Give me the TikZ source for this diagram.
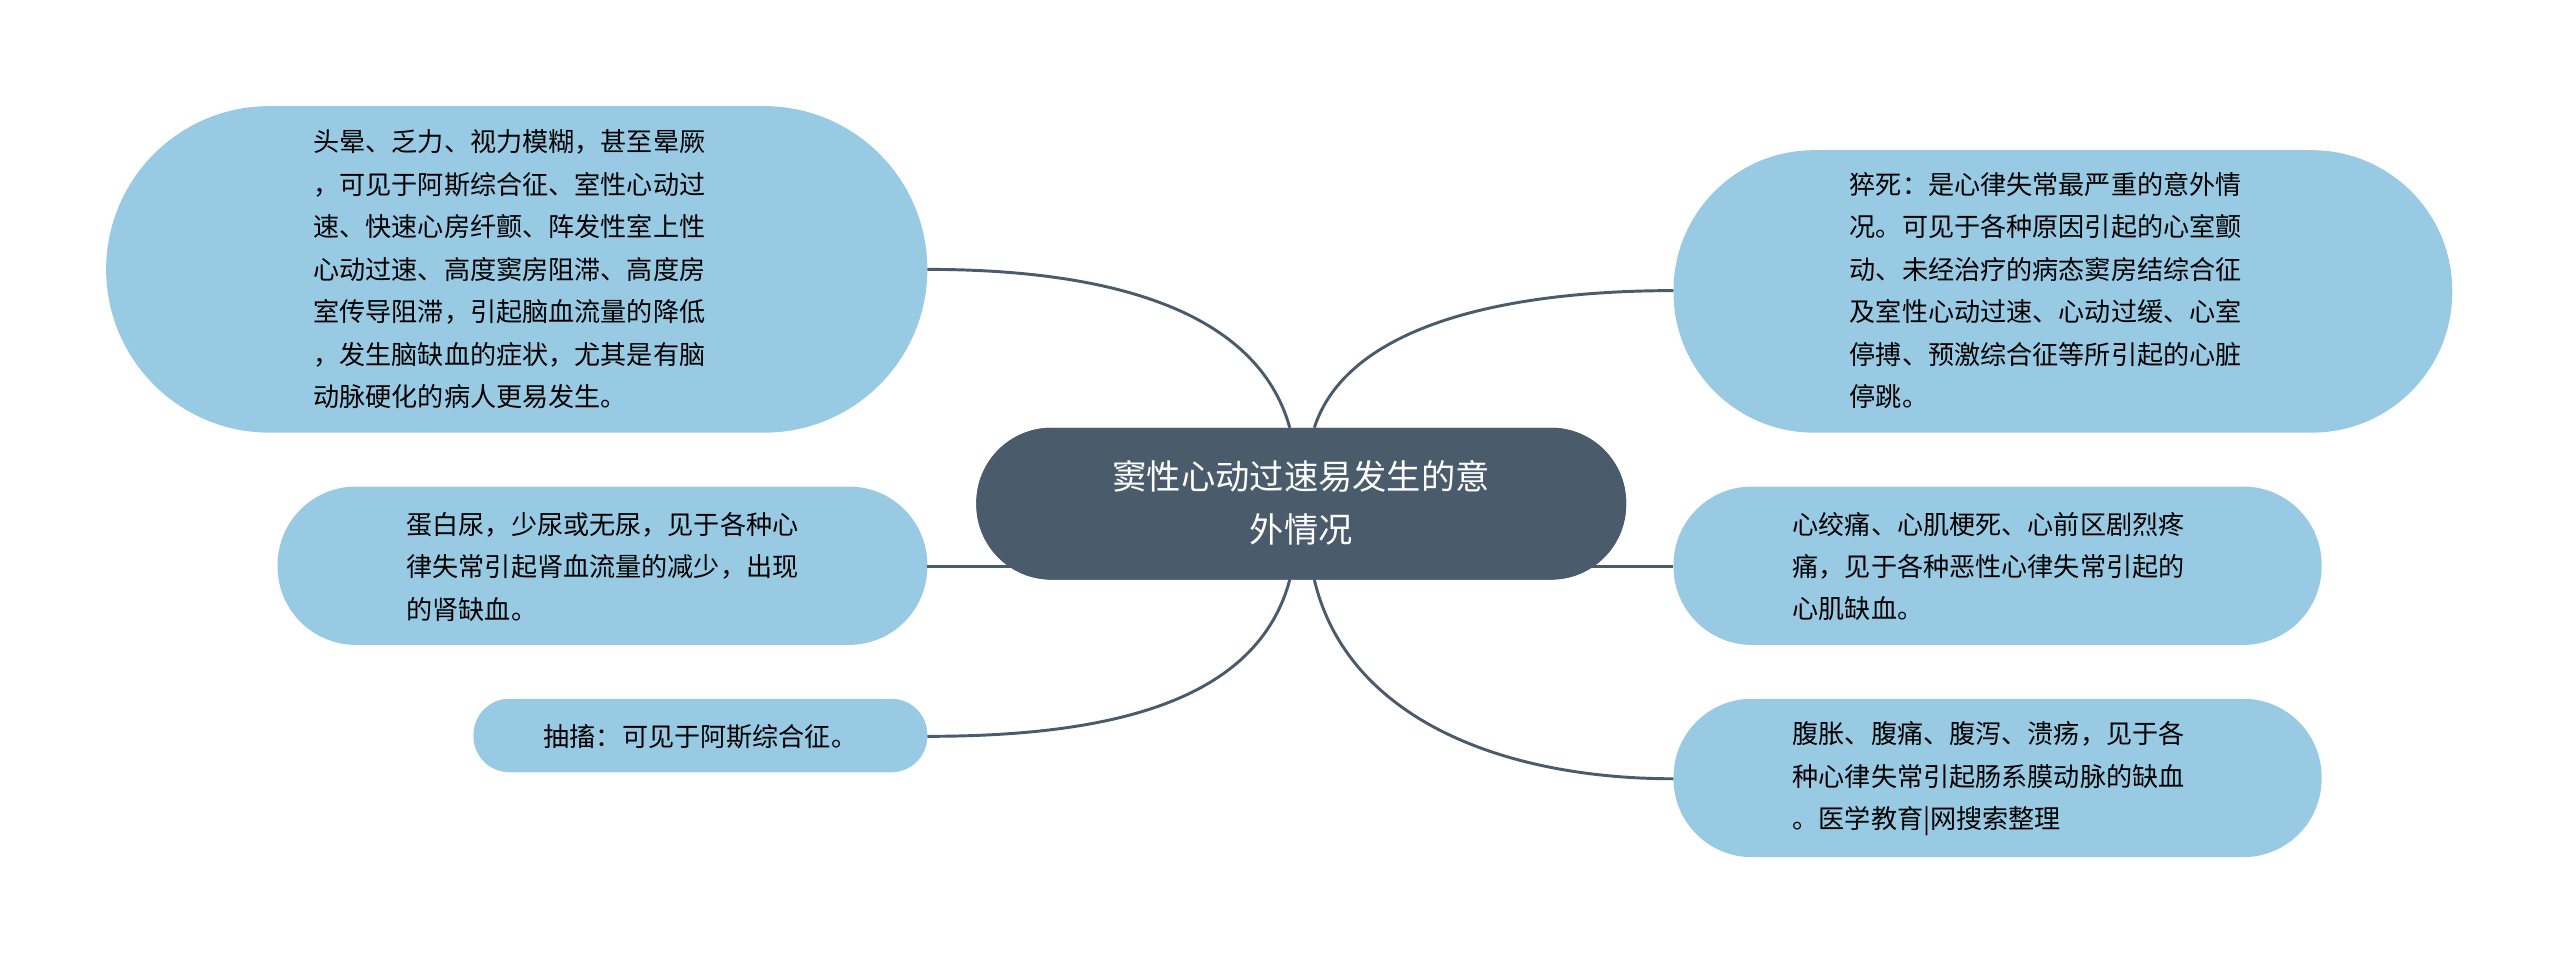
\documentclass[tikz,border=0pt]{standalone}
\usepackage{fontspec}
\setmainfont{Noto Sans CJK SC}
\definecolor{topicblue}{HTML}{98CBE3}
\definecolor{rootgray}{HTML}{4A5B6B}
\begin{document}
\begin{tikzpicture}[x=1pt,y=-1pt]
	\tikzstyle{every node}=[font=\fontsize{16}{26}\selectfont]
	\tikzstyle{topic}=[rounded rectangle, fill=topicblue, align=left, inner sep=0pt]
	\tikzstyle{link}=[draw=rootgray, line width=1.8pt]
	\useasboundingbox (0,0) rectangle (1568,591);
	\fill[rootgray, rounded corners=46pt] (598,262) rectangle (996,355);
	\node[text=white, align=center, font=\fontsize{21}{32}\selectfont] (root) at (797,308) {窦性心动过速易发生的意\\外情况};
	% left side
	\fill[topicblue, rounded corners=100pt] (65,65) rectangle (568,265);
	\node[align=left] (hx) at (312,165) {头晕、乏力、视力模糊，甚至晕厥\\，可见于阿斯综合征、室性心动过\\速、快速心房纤颤、阵发性室上性\\心动过速、高度窦房阻滞、高度房\\室传导阻滞，引起脑血流量的降低\\，发生脑缺血的症状，尤其是有脑\\动脉硬化的病人更易发生。};
	\fill[topicblue, rounded corners=48pt] (170,298) rectangle (568,395);
	\node[align=left] (dbn) at (369,347) {蛋白尿，少尿或无尿，见于各种心\\律失常引起肾血流量的减少，出现\\的肾缺血。};
	\fill[topicblue, rounded corners=22pt] (290,428) rectangle (568,473);
	\node (cc) at (429,451) {抽搐：可见于阿斯综合征。};
	% right side
	\fill[topicblue, rounded corners=86pt] (1025,92) rectangle (1502,265);
	\node[align=left] (cs) at (1253,178) {猝死：是心律失常最严重的意外情\\况。可见于各种原因引起的心室颤\\动、未经治疗的病态窦房结综合征\\及室性心动过速、心动过缓、心室\\停搏、预激综合征等所引起的心脏\\停跳。};
	\fill[topicblue, rounded corners=48pt] (1025,298) rectangle (1422,395);
	\node[align=left] (xjt) at (1218,347) {心绞痛、心肌梗死、心前区剧烈疼\\痛，见于各种恶性心律失常引起的\\心肌缺血。};
	\fill[topicblue, rounded corners=48pt] (1025,428) rectangle (1422,525);
	\node[align=left] (fz) at (1218,477) {腹胀、腹痛、腹泻、溃疡，见于各\\种心律失常引起肠系膜动脉的缺血\\。医学教育|网搜索整理};
	% links
	\draw[link] (790,262) .. controls (770,190) and (680,165) .. (568,165);
	\draw[link] (620,347) -- (568,347);
	\draw[link] (790,355) .. controls (770,430) and (680,451) .. (568,451);
	\draw[link] (805,262) .. controls (825,200) and (920,178) .. (1025,178);
	\draw[link] (975,347) -- (1025,347);
	\draw[link] (805,355) .. controls (825,440) and (920,477) .. (1025,477);
	\fill[rootgray, rounded corners=46pt] (598,262) rectangle (996,355);
	\node[text=white, align=center, font=\fontsize{21}{32}\selectfont] at (797,308) {窦性心动过速易发生的意\\外情况};
\end{tikzpicture}
\end{document}
